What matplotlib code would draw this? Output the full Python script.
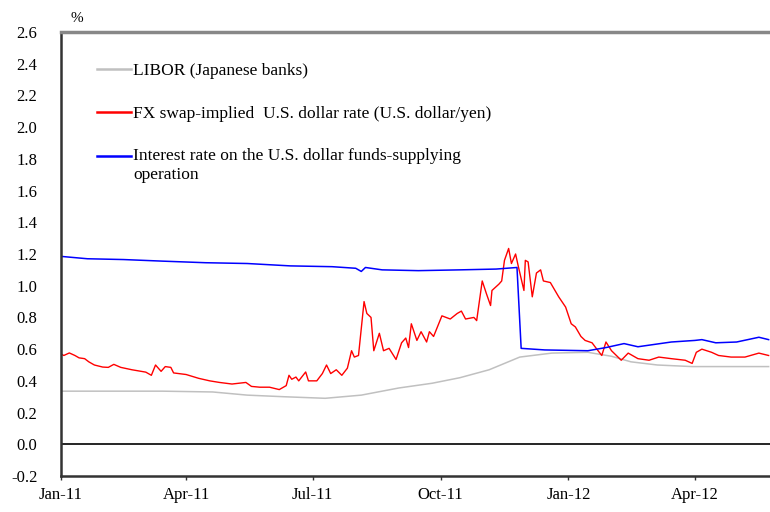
import matplotlib
matplotlib.use("Agg")
import matplotlib.pyplot as plt
import matplotlib.dates as mdates
import pandas as pd
from matplotlib.lines import Line2D

plt.rcParams['font.family'] = ['Liberation Serif', 'DejaVu Serif']

# ---------------- data ----------------
red_dates = [
    "2011-01-01", "2011-01-03", "2011-01-07", "2011-01-11", "2011-01-14", "2011-01-18", "2011-01-21",
    "2011-01-25", "2011-01-31", "2011-02-04", "2011-02-08", "2011-02-13", "2011-02-21", "2011-03-03",
    "2011-03-07", "2011-03-10", "2011-03-14", "2011-03-17", "2011-03-21", "2011-03-23", "2011-04-01",
    "2011-04-10", "2011-04-18", "2011-04-25", "2011-05-04", "2011-05-14", "2011-05-18", "2011-05-24",
    "2011-05-31", "2011-06-07", "2011-06-12", "2011-06-14", "2011-06-16", "2011-06-19", "2011-06-21",
    "2011-06-26", "2011-06-28", "2011-07-04", "2011-07-08", "2011-07-11", "2011-07-14", "2011-07-18",
    "2011-07-22", "2011-07-26", "2011-07-29", "2011-07-31", "2011-08-03", "2011-08-07", "2011-08-09",
    "2011-08-12", "2011-08-14", "2011-08-18", "2011-08-21", "2011-08-25", "2011-08-30", "2011-09-03",
    "2011-09-06", "2011-09-08", "2011-09-10", "2011-09-14", "2011-09-17", "2011-09-21", "2011-09-23",
    "2011-09-26", "2011-10-02", "2011-10-08", "2011-10-13", "2011-10-16", "2011-10-19", "2011-10-25",
    "2011-10-27", "2011-10-31", "2011-11-03", "2011-11-06", "2011-11-07", "2011-11-12", "2011-11-14",
    "2011-11-16", "2011-11-19", "2011-11-21", "2011-11-24", "2011-11-26", "2011-11-30", "2011-12-01",
    "2011-12-03", "2011-12-06", "2011-12-09", "2011-12-12", "2011-12-14", "2011-12-19", "2011-12-25",
    "2011-12-30", "2012-01-03", "2012-01-06", "2012-01-10", "2012-01-13", "2012-01-18", "2012-01-21",
    "2012-01-25", "2012-01-28", "2012-02-01", "2012-02-08", "2012-02-13", "2012-02-20", "2012-02-28",
    "2012-03-06", "2012-03-15", "2012-03-25", "2012-03-30", "2012-04-02", "2012-04-06", "2012-04-13",
    "2012-04-18", "2012-04-27", "2012-05-07", "2012-05-17", "2012-05-24",
]
red_values = [
    0.57, 0.56, 0.576, 0.56, 0.545, 0.54, 0.52,
    0.50, 0.487, 0.485, 0.504, 0.485, 0.47, 0.455,
    0.435, 0.50, 0.46, 0.49, 0.485, 0.45, 0.44,
    0.416, 0.40, 0.39, 0.38, 0.39, 0.365, 0.36,
    0.36, 0.345, 0.37, 0.435, 0.41, 0.424, 0.40,
    0.456, 0.40, 0.40, 0.446, 0.50, 0.446, 0.47,
    0.435, 0.48, 0.59, 0.55, 0.56, 0.90, 0.825,
    0.80, 0.59, 0.70, 0.59, 0.605, 0.535, 0.64,
    0.67, 0.61, 0.76, 0.655, 0.71, 0.645, 0.71,
    0.68, 0.81, 0.79, 0.825, 0.84, 0.79, 0.80,
    0.78, 1.03, 0.95, 0.875, 0.97, 1.01, 1.03,
    1.16, 1.235, 1.14, 1.20, 1.12, 0.97, 1.16,
    1.15, 0.93, 1.08, 1.10, 1.03, 1.02, 0.93,
    0.865, 0.76, 0.74, 0.68, 0.655, 0.64, 0.605,
    0.56, 0.645, 0.59, 0.53, 0.575, 0.54, 0.53,
    0.55, 0.54, 0.53, 0.51, 0.58, 0.60, 0.58,
    0.56, 0.55, 0.55, 0.575, 0.56,
]

blue_dates = [
    "2011-01-01", "2011-01-20", "2011-02-15", "2011-03-15", "2011-04-15", "2011-05-15", "2011-06-15",
    "2011-07-15", "2011-08-01", "2011-08-05", "2011-08-08", "2011-08-20", "2011-09-15", "2011-10-15",
    "2011-11-10", "2011-11-25", "2011-11-28", "2011-12-15", "2012-01-15", "2012-01-28", "2012-02-10",
    "2012-02-20", "2012-03-15", "2012-04-01", "2012-04-06", "2012-04-16", "2012-05-01", "2012-05-17",
    "2012-05-24",
]
blue_values = [
    1.185, 1.17, 1.165, 1.155, 1.145, 1.14, 1.125,
    1.12, 1.11, 1.09, 1.115, 1.10, 1.095, 1.10,
    1.105, 1.115, 0.605, 0.595, 0.59, 0.61, 0.635,
    0.615, 0.645, 0.655, 0.66, 0.64, 0.645, 0.675,
    0.66,
]

libor_dates = [
    "2011-01-01", "2011-03-15", "2011-04-20", "2011-05-15", "2011-06-10", "2011-07-10", "2011-08-05",
    "2011-09-01", "2011-09-25", "2011-10-15", "2011-11-05", "2011-11-27", "2011-12-20", "2012-01-15",
    "2012-02-01", "2012-02-15", "2012-03-05", "2012-03-30", "2012-05-24",
]
libor_values = [
    0.335, 0.335, 0.33, 0.31, 0.30, 0.29, 0.31,
    0.355, 0.385, 0.42, 0.47, 0.55, 0.575, 0.58,
    0.555, 0.52, 0.50, 0.49, 0.49,
]

series_labels = [
    "LIBOR (Japanese banks)",
    "FX swap-implied  U.S. dollar rate (U.S. dollar/yen)",
    "Interest rate on the U.S. dollar funds-supplying\noperation",
]
tick_dates = ["2011-01-01", "2011-04-01", "2011-07-01", "2011-10-01", "2012-01-01", "2012-04-01"]
y_ticks = [-0.2, 0.0, 0.2, 0.4, 0.6, 0.8, 1.0, 1.2, 1.4, 1.6, 1.8, 2.0, 2.2, 2.4, 2.6]

# ---------------- figure ----------------
fig = plt.figure(figsize=(7.7, 5.12), dpi=100)
ax = fig.add_axes([61 / 770, 36 / 512, 709 / 770, 444 / 512])

ax.plot(pd.to_datetime(libor_dates), libor_values, color="#c0c0c0", lw=1.1)
ax.plot(pd.to_datetime(red_dates), red_values, color="#ff0000", lw=1.0)
ax.plot(pd.to_datetime(blue_dates), blue_values, color="#0000ff", lw=1.1)
ax.axhline(0.0, color="#000000", lw=1.2)

ax.set_ylim(-0.2, 2.6)
ax.set_xlim(pd.Timestamp("2011-01-01"), pd.Timestamp("2012-05-25"))
ax.set_yticks(y_ticks)
ax.set_yticklabels([f"{v:.1f}" for v in y_ticks])
ax.set_xticks(pd.to_datetime(tick_dates))
ax.xaxis.set_major_formatter(mdates.DateFormatter("%b-%y"))

ax.tick_params(axis="y", length=0, pad=17, labelsize=12, colors="#000000")
ax.tick_params(axis="x", length=3, width=1, direction="out", pad=5, labelsize=12, colors="#333333")
for t in ax.get_xticklabels():
    t.set_color("#000000")

for s in ["left", "bottom"]:
    ax.spines[s].set_color("#333333")
    ax.spines[s].set_linewidth(1.8)
ax.spines["top"].set_color("#888888")
ax.spines["top"].set_linewidth(2.5)
ax.spines["right"].set_visible(False)

ax.text(77 / 770, 1 - 18 / 512, "%", transform=fig.transFigure, fontsize=11,
        ha="center", va="center")

# legend (manual, upper left inside the axes)
leg_colors = ["#c0c0c0", "#ff0000", "#0000ff"]
leg_y = [0.9167, 0.8198, 0.7207]
for lab, col, yy in zip(series_labels, leg_colors, leg_y):
    ax.add_line(Line2D([0.0508, 0.0987], [yy, yy], transform=ax.transAxes, color=col, lw=1.8))
    if "\n" in lab:
        ax.text(0.1016, yy + 0.019, lab, transform=ax.transAxes, fontsize=12.5,
                ha="left", va="top", linespacing=1.3)
    else:
        ax.text(0.1016, yy, lab, transform=ax.transAxes, fontsize=12.5,
                ha="left", va="center_baseline")

fig.savefig("out.png", dpi=100)
